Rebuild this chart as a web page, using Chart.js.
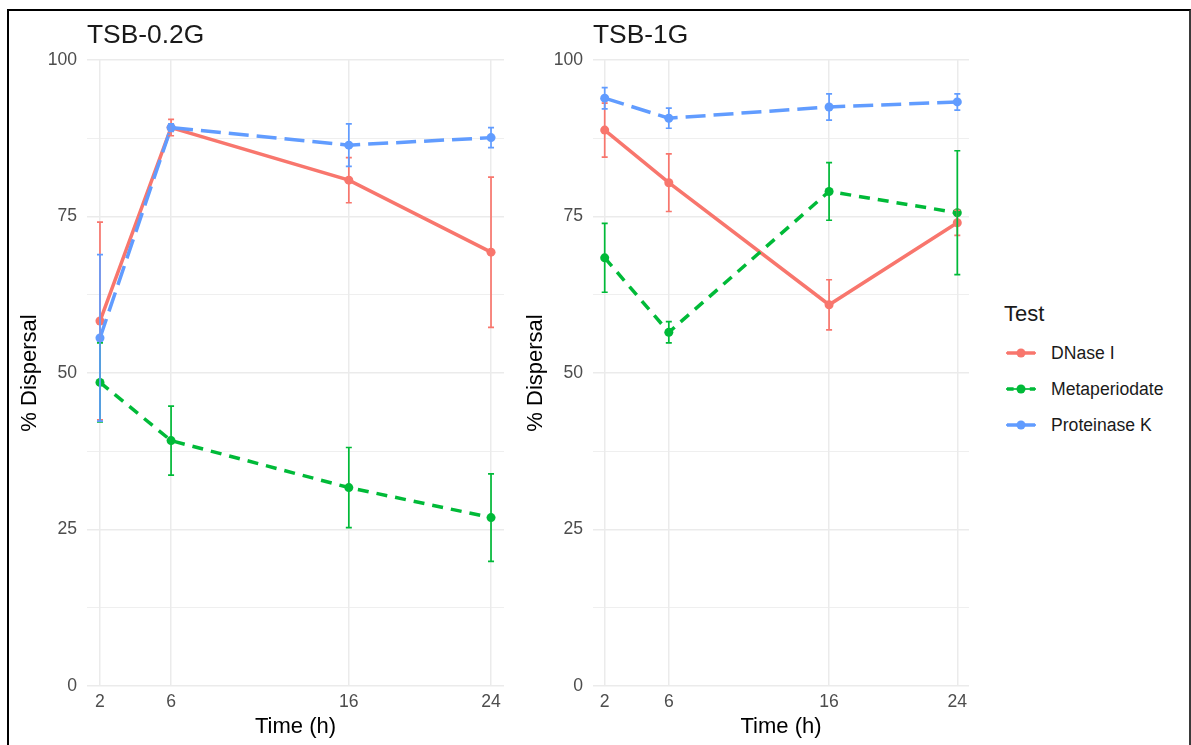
<!DOCTYPE html>
<html>
<head>
<meta charset="utf-8">
<script src="https://cdn.jsdelivr.net/npm/chart.js@4.4.1/dist/chart.umd.min.js"></script>
<style>
  body { margin: 0; background: #fff; font-family: "Liberation Sans", Arial, sans-serif; }
  #page { position: relative; width: 1191px; height: 745px; overflow: hidden; }
  #frame { position: absolute; left: 7px; top: 9px; width: 1180px; height: 800px;
           border-top: 2px solid #000; border-left: 2px solid #000; border-right: 2px solid #3a3a3a; }
  canvas { position: absolute; top: 0; }
  .panel-title { position: absolute; top: 21px; font-size: 26.4px; line-height: 1; color: #1a1a1a; }
  #legend-title { position: absolute; left: 1004px; top: 303px; font-size: 22px; line-height: 1; color: #1a1a1a; }
  .legend-item { position: absolute; left: 1051px; font-size: 17.6px; line-height: 1; color: #1a1a1a; }
  .legend-key { position: absolute; left: 1004px; }
</style>
</head>
<body>
<div id="page">
  <div id="frame"></div>
  <canvas id="left" width="520" height="745" style="left:0"></canvas>
  <canvas id="right" width="480" height="745" style="left:506px"></canvas>
  <div class="panel-title" style="left:87px">TSB-0.2G</div>
  <div class="panel-title" style="left:593px">TSB-1G</div>
  <div id="legend-title">Test</div>
</div>
<script>
const hours = [2, 6, 16, 24];
const tests = ["DNase I", "Metaperiodate", "Proteinase K"];
const colors = ["#F8766D", "#00BA38", "#619CFF"];
const dashes = [[], [11, 8], [20, 8]];

// TSB-0.2G panel
const dnase02 = [58.3, 89.2, 80.8, 69.3];
const dnase02Err = [15.8, 1.3, 3.6, 12.0];
const meta02 = [48.5, 39.2, 31.7, 26.9];
const meta02Err = [6.3, 5.5, 6.4, 7.0];
const prot02 = [55.6, 89.2, 86.4, 87.6];
const prot02Err = [13.3, 0.6, 3.4, 1.6];

// TSB-1G panel
const dnase1 = [88.8, 80.4, 60.9, 74.0];
const dnase1Err = [4.3, 4.6, 4.0, 2.0];
const meta1 = [68.4, 56.5, 79.0, 75.6];
const meta1Err = [5.5, 1.7, 4.6, 9.9];
const prot1 = [93.9, 90.7, 92.5, 93.3];
const prot1Err = [1.7, 1.6, 2.1, 1.3];

const fontFamily = "'Liberation Sans', Arial, sans-serif";

// error bars drawn on top of lines and points
const errorBars = {
    id: "errorBars",
    afterDatasetsDraw(chart) {
        const ctx = chart.ctx;
        const xScale = chart.scales.x;
        const yScale = chart.scales.y;
        chart.data.datasets.forEach((ds) => {
            ctx.save();
            ctx.strokeStyle = ds.borderColor;
            ctx.lineWidth = 1.7;
            ds.data.forEach((pt, i) => {
                const px = xScale.getPixelForValue(pt.x);
                const top = yScale.getPixelForValue(pt.y + ds.errors[i]);
                const bottom = yScale.getPixelForValue(pt.y - ds.errors[i]);
                ctx.beginPath();
                ctx.moveTo(px, top);
                ctx.lineTo(px, bottom);
                ctx.moveTo(px - 3, top);
                ctx.lineTo(px + 3, top);
                ctx.moveTo(px - 3, bottom);
                ctx.lineTo(px + 3, bottom);
                ctx.stroke();
            });
            ctx.restore();
        });
    }
};

function makePanel(canvasId, series, errors, rightPad) {
    const datasets = tests.map((name, k) => ({
        label: name,
        data: hours.map((h, i) => ({ x: h, y: series[k][i] })),
        errors: errors[k],
        borderColor: colors[k],
        backgroundColor: colors[k],
        borderWidth: 3.5,
        borderDash: dashes[k],
        borderCapStyle: "butt",
        pointRadius: 4.5,
        pointBorderWidth: 0,
        pointBackgroundColor: colors[k],
        tension: 0,
        order: 3 - k
    }));

    return new Chart(document.getElementById(canvasId), {
        type: "line",
        data: { datasets: datasets },
        options: {
            responsive: false,
            animation: false,
            devicePixelRatio: 1,
            layout: { padding: { left: 0, top: 60, right: rightPad, bottom: 0 } },
            plugins: {
                legend: { display: false },
                tooltip: { enabled: false }
            },
            scales: {
                x: {
                    type: "linear",
                    min: 1.27,
                    max: 24.73,
                    afterBuildTicks: (scale) => {
                        scale.ticks = hours.map((v) => ({ value: v }));
                    },
                    afterFit: (scale) => {
                        scale.height = 59;
                        scale.paddingLeft = 0;
                        scale.paddingRight = 0;
                    },
                    grid: { color: "#EBEBEB", lineWidth: 1.5, drawTicks: false },
                    border: { display: false },
                    ticks: {
                        color: "#4D4D4D",
                        font: { family: fontFamily, size: 17.6 },
                        padding: 6,
                        maxRotation: 0,
                        autoSkip: false
                    },
                    title: {
                        display: true,
                        text: "Time (h)",
                        color: "#000",
                        font: { family: fontFamily, size: 22 },
                        padding: { top: 0, bottom: 5 }
                    }
                },
                y: {
                    min: 0,
                    max: 100,
                    afterFit: (scale) => {
                        scale.width = 87;
                        scale.paddingTop = 0;
                        scale.paddingBottom = 0;
                    },
                    grid: {
                        color: "#EBEBEB",
                        lineWidth: (c) => (c.tick && c.tick.value % 25 === 0 ? 1.5 : 0.8),
                        drawTicks: false
                    },
                    border: { display: false },
                    ticks: {
                        stepSize: 12.5,
                        autoSkip: false,
                        color: "#4D4D4D",
                        font: { family: fontFamily, size: 17.6 },
                        padding: 10,
                        callback: (v) => (v % 25 === 0 ? v : "")
                    },
                    title: {
                        display: true,
                        text: "% Dispersal",
                        color: "#000",
                        font: { family: fontFamily, size: 22 },
                        padding: { top: 17, bottom: 0 }
                    }
                }
            }
        },
        plugins: [errorBars]
    });
}

makePanel("left", [dnase02, meta02, prot02], [dnase02Err, meta02Err, prot02Err], 16);
makePanel("right", [dnase1, meta1, prot1], [dnase1Err, meta1Err, prot1Err], 17);

// Legend: key glyph (path + point + errorbar key) and label
const page = document.getElementById("page");
const keyCenters = [353, 389, 425];
tests.forEach((name, k) => {
    const key = document.createElement("canvas");
    key.width = 34;
    key.height = 16;
    key.className = "legend-key";
    key.style.top = (keyCenters[k] - 8) + "px";
    const c = key.getContext("2d");
    c.strokeStyle = colors[k];
    c.lineWidth = 1.7;
    c.beginPath();
    c.moveTo(2, 8);
    c.lineTo(32, 8);
    c.stroke();
    c.lineWidth = 3.5;
    c.setLineDash(dashes[k].map((d) => d * 0.6));
    c.beginPath();
    c.moveTo(3, 8);
    c.lineTo(31, 8);
    c.stroke();
    c.fillStyle = colors[k];
    c.beginPath();
    c.arc(17, 8, 4.5, 0, Math.PI * 2);
    c.fill();
    page.appendChild(key);

    const label = document.createElement("div");
    label.className = "legend-item";
    label.style.top = (keyCenters[k] - 8) + "px";
    label.textContent = name;
    page.appendChild(label);
});
</script>
</body>
</html>
